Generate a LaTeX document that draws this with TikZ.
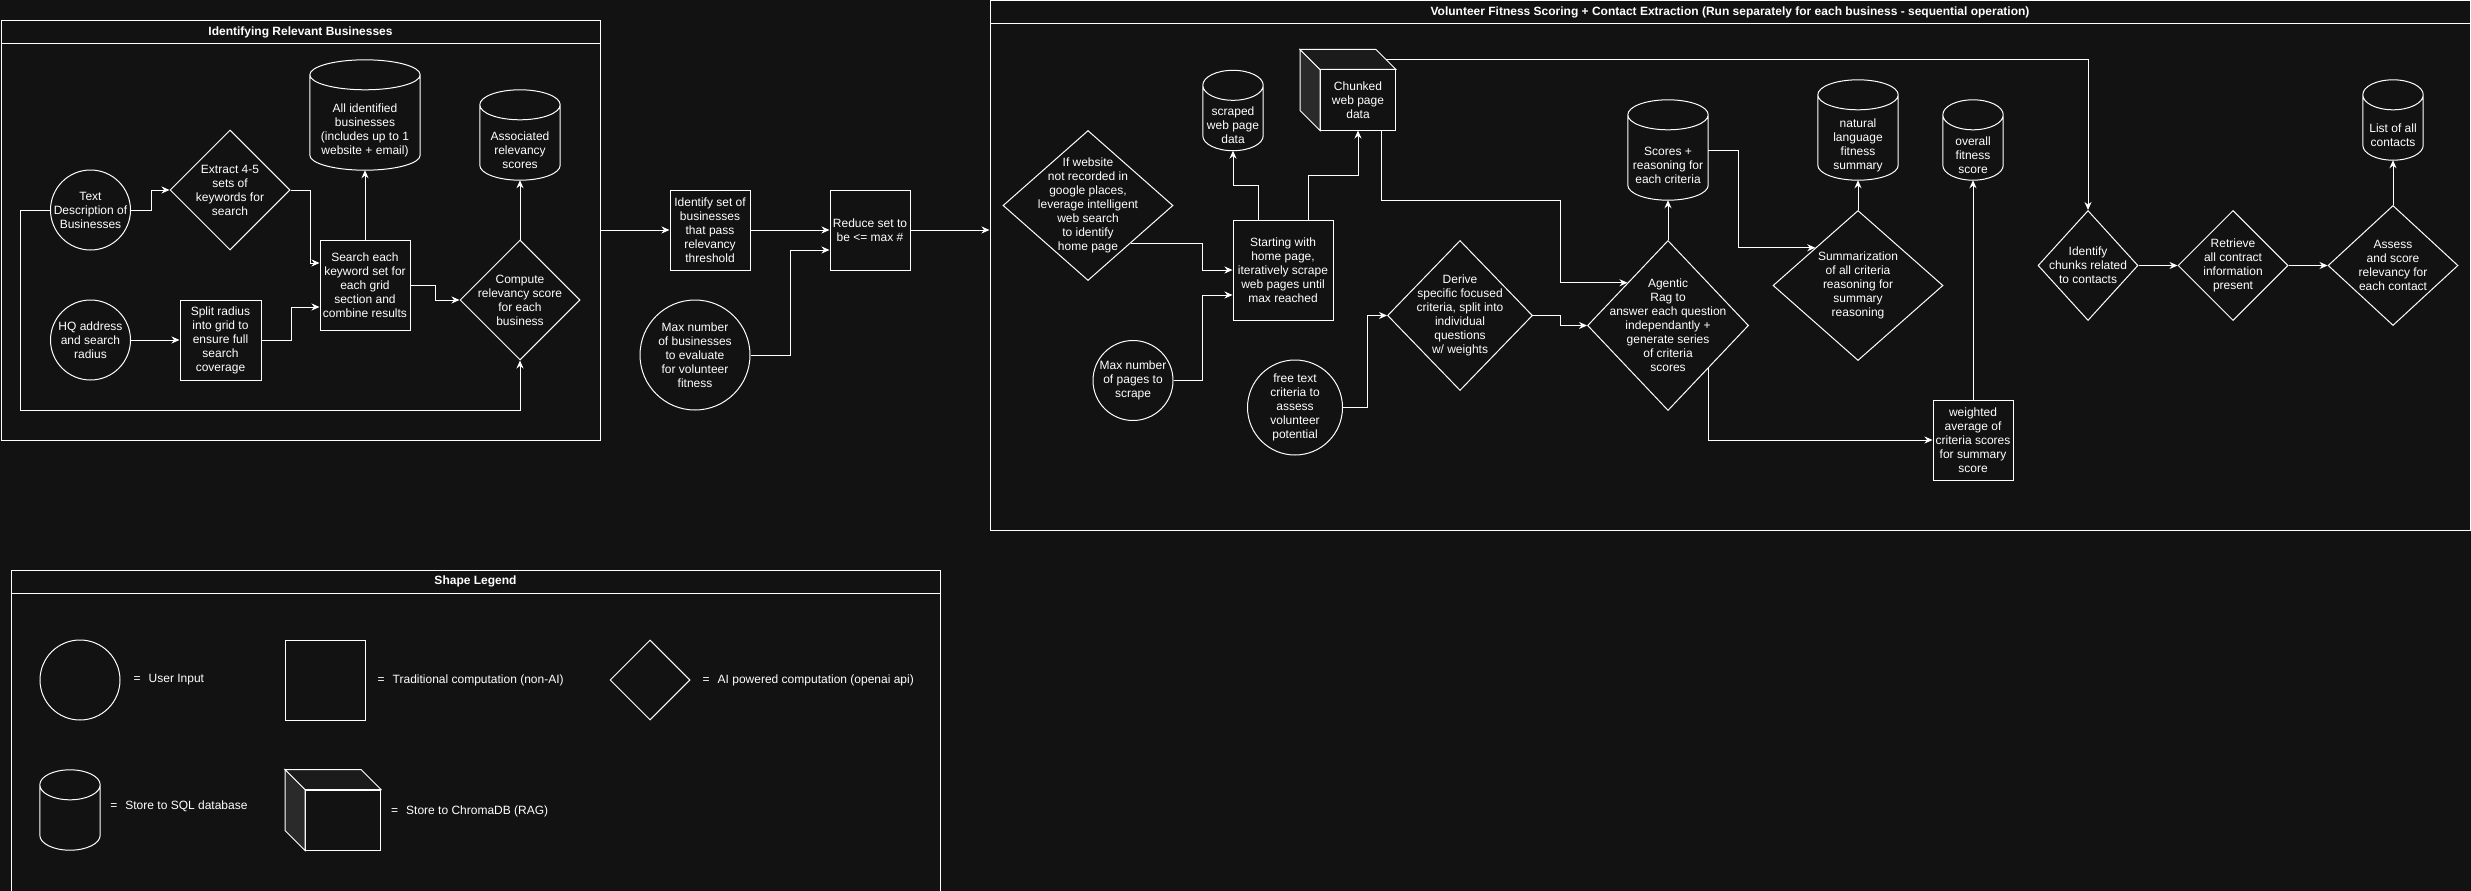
\documentclass[tikz,border=0pt]{standalone}
\usepackage{fontspec}
\setmainfont{Liberation Sans}
\usepackage{xcolor}
\definecolor{canvas}{RGB}{18,18,18}
\definecolor{cubeside}{RGB}{42,42,42}
\definecolor{cubetop}{RGB}{27,27,27}
\usepackage{tikz}
\usetikzlibrary{positioning,calc,shapes.geometric,arrows.meta}

\begin{document}
\begin{tikzpicture}[
        x=1pt, y=-1pt,
        font=\fontsize{12pt}{14pt}\selectfont,
        every label/.style={align=center, text=white, inner sep=0pt},
        user/.style={circle, draw=white, line width=1pt, minimum size=#1, inner sep=0pt},
        proc/.style 2 args={rectangle, draw=white, line width=1pt, minimum width=#1, minimum height=#2, inner sep=0pt, text=white, align=center},
        ai/.style 2 args={diamond, draw=white, line width=1pt, minimum width=#1, minimum height=#2, inner sep=0pt},
        db/.style 2 args={rectangle, minimum width=#1, minimum height=#2, inner sep=0pt, text=white, align=center},
        rag/.style={rectangle, draw=white, line width=1pt, minimum width=75pt, minimum height=60pt, inner sep=0pt, text=white, align=center},
        lane/.style 2 args={rectangle, draw=white, line width=1pt, minimum width=#1, minimum height=#2},
        lanetitle/.style={rectangle, draw=white, line width=1pt, minimum width=#1, minimum height=23pt, inner sep=0pt, text=white, font=\fontsize{12pt}{14pt}\selectfont\bfseries},
        leg/.style={text=white, inner sep=0pt, anchor=west},
        arr/.style={-{Stealth[length=8pt,width=7pt]}, draw=white, line width=1pt}
    ]
    \clip (0,0) rectangle (2471,891);
    \fill[canvas] (0,0) rectangle (2471,891);

    \node[lane={599pt}{419pt}] (lane1) at (300.5,230.5) {};
    \node[lanetitle=599pt, below=0pt of lane1.north] (lane1t) {Identifying Relevant Businesses};
    \node[lane={1480pt}{529pt}] (lane2) at (1730,265.5) {};
    \node[lanetitle=1480pt, below=0pt of lane2.north] (lane2t) {Volunteer Fitness Scoring + Contact Extraction (Run separately for each business - sequential operation)};
    \node[lane={929pt}{335pt}] (lane3) at (475.5,737.5) {};
    \node[lanetitle=929pt, below=0pt of lane3.north] (lane3t) {Shape Legend};

    \node[user=80pt, label={center:Text\\Description of\\Businesses}] (desc) at (90.5,210) {};
    \node[user=80pt, label={center:HQ address\\and search\\radius}] (hq) at (90.5,340) {};
    \node[ai={120pt}{120pt}, label={center:Extract 4-5\\sets of\\keywords for\\search}] (extract) at (230,190) {};
    \node[proc={81pt}{80pt}] (split) at (220.5,340) {Split radius\\into grid to\\ensure full\\search\\coverage};
    \node[proc={90pt}{90pt}] (search) at (365,285) {Search each\\keyword set for\\each grid\\section and\\combine results};
    \node[db={110pt}{80pt}] (allbiz) at (365,130) {All identified\\businesses\\(includes up to 1\\website + email)};
    \node[db={80pt}{60pt}] (relscores) at (520,150) {Associated\\relevancy\\scores};
    \node[ai={120pt}{120pt}, label={center:Compute\\relevancy score\\for each\\business}] (compute) at (520,300) {};

    \node[proc={80pt}{80pt}] (identify) at (710,230) {Identify set of\\businesses\\that pass\\relevancy\\threshold};
    \node[proc={80pt}{80pt}] (reduce) at (870,230) {Reduce set to\\be <= max \#};
    \node[user=110pt, label={center:Max number\\of businesses\\to evaluate\\for volunteer\\fitness}] (maxbiz) at (695,355) {};

    \node[ai={170pt}{150pt}, label={center:If website\\not recorded in\\google places,\\leverage intelligent\\web search\\to identify\\home page}] (ifweb) at (1088,205.5) {};
    \node[db={60pt}{50pt}] (scraped) at (1233,125.5) {scraped\\web page\\data};
    \node[rag] (chunked) at (1358,100) {Chunked\\web page\\data};
    \node[proc={100pt}{100pt}] (start) at (1283,270) {Starting with\\home page,\\iteratively scrape\\web pages until\\max reached};
    \node[user=80pt, label={center:Max number\\of pages to\\scrape}] (maxpages) at (1133,380.5) {};
    \node[user=95pt, label={center:free text\\criteria to\\assess\\volunteer\\potential}] (freetext) at (1295,407.5) {};
    \node[ai={145pt}{150pt}, label={center:Derive\\specific focused\\criteria, split into\\individual\\questions\\w/ weights}] (derive) at (1460,315.5) {};
    \node[ai={161pt}{170pt}, label={center:Agentic\\Rag to\\answer each question\\independantly +\\generate series\\of criteria\\scores}] (agentic) at (1668,325.5) {};
    \node[db={80pt}{70pt}] (critscores) at (1668,165) {Scores +\\reasoning for\\each criteria};
    \node[ai={170pt}{150pt}, label={center:Summarization\\of all criteria\\reasoning for\\summary\\reasoning}] (summ) at (1858,285.5) {};
    \node[db={80pt}{70pt}] (nlsummary) at (1858,145) {natural\\language\\fitness\\summary};
    \node[db={60pt}{50pt}] (fitscore) at (1973,155) {overall\\fitness\\score};
    \node[proc={80pt}{80pt}] (weighted) at (1973,440) {weighted\\average of\\criteria scores\\for summary\\score};
    \node[ai={100pt}{110pt}, label={center:Identify\\chunks related\\to contacts}] (idchunks) at (2088,265.5) {};
    \node[ai={110pt}{110pt}, label={center:Retrieve\\all contract\\information\\present}] (retrieve) at (2233,265.5) {};
    \node[ai={130pt}{120pt}, label={center:Assess\\and score\\relevancy for\\each contact}] (assess) at (2393,265.5) {};
    \node[db={60pt}{50pt}] (contacts) at (2393,135) {List of all\\contacts};

    \node[user=80pt] (legUser) at (80,680) {};
    \node[leg, right=13pt of legUser] (legUserT) {=\hspace{8pt}User Input};
    \node[proc={80pt}{80pt}] (legProc) at (325,680) {};
    \node[leg, right=12pt of legProc] (legProcT) {=\hspace{8pt}Traditional computation (non-AI)};
    \node[ai={80pt}{80pt}] (legAI) at (650,680) {};
    \node[leg, right=12pt of legAI] (legAIT) {=\hspace{8pt}AI powered computation (openai api)};
    \node[db={60pt}{50pt}] (legDB) at (70,825) {};
    \node[leg, right=10pt of legDB, yshift=19pt] (legDBT) {=\hspace{8pt}Store to SQL database};
    \node[rag] (legCube) at (343,820) {};
    \node[leg, right=10pt of legCube, yshift=9pt] (legCubeT) {=\hspace{8pt}Store to ChromaDB (RAG)};

    \foreach \c in {allbiz,relscores,scraped,critscores,nlsummary,fitscore,contacts,legDB}
        \draw[white, line width=1pt] let \p1=(\c.north west), \p2=(\c.south east), \n1={(\x2-\x1)/2} in
            (\x1,\y1+15pt) -- (\x1,\y2+15pt)
            arc[start angle=180, end angle=360, x radius=\n1*1pt, y radius=15pt]
            -- (\x2,\y1+15pt)
            arc[start angle=0, end angle=180, x radius=\n1*1pt, y radius=15pt]
            arc[start angle=180, end angle=360, x radius=\n1*1pt, y radius=15pt];
    \foreach \c in {chunked,legCube}{
        \filldraw[draw=white, line width=1pt, fill=cubeside] (\c.north west) -- ++(-20,-20) -- ($(\c.south west)+(-20,-20)$) -- (\c.south west) -- cycle;
        \filldraw[draw=white, line width=1pt, fill=cubetop] (\c.north west) -- ++(-20,-20) -- ($(\c.north east)+(-20,-20)$) -- (\c.north east) -- cycle;
    }

    \draw[arr] (desc.east) -- ++(20,0) |- (extract.west);
    \draw[arr] (desc.west) -- ++(-30,0) |- ($(compute.south)+(0,50)$) -- (compute.south);
    \draw[arr] (extract.east) -- ++(20,0) |- ($(search.west)+(0,-22)$);
    \draw[arr] (hq) -- (split);
    \draw[arr] (split.east) -- ++(30,0) |- ($(search.west)+(0,22)$);
    \draw[arr] (search.north) -- (allbiz.south);
    \draw[arr] (search.east) -- ++(25,0) |- (compute.west);
    \draw[arr] (compute.north) -- (relscores.south);
    \draw[arr] (lane1.east |- identify.west) -- (identify.west);
    \draw[arr] (identify) -- (reduce);
    \draw[arr] (maxbiz.east) -- ++(40,0) |- ($(reduce.west)+(0,20)$);
    \draw[arr] (reduce.east) -- (reduce.east -| lane2.west);
    \draw[arr] ($(ifweb.east)!0.5!(ifweb.south)$) -| ($(start.west)+(-30,0)$) -- (start.west);
    \draw[arr] (maxpages.east) -| ($(start.west)+(-30,25)$) -- ($(start.west)+(0,25)$);
    \draw[arr] ($(start.north)+(-25,0)$) |- ($(scraped.south)+(0,35)$) -- (scraped.south);
    \draw[arr] ($(start.north)+(25,0)$) |- ($(chunked.south)+(0,45)$) -- (chunked.south);
    \draw[arr] ($(chunked.south)+(23,0)$) -- ++(0,70) -| ($(agentic.west)!0.5!(agentic.north)+(-67,0)$) -- ($(agentic.west)!0.5!(agentic.north)$);
    \draw[arr] ($(chunked.north east)+(-10,-10)$) -| (idchunks.north);
    \draw[arr] (freetext.east) -- ++(24,0) |- (derive.west);
    \draw[arr] (derive.east) -- ++(27,0) |- (agentic.west);
    \draw[arr] (agentic.north) -- (critscores.south);
    \draw[arr] ($(critscores.east)+(0,-15)$) -- ++(30,0) |- ($(summ.west)!0.5!(summ.north)$);
    \draw[arr] (summ.north) -- (nlsummary.south);
    \draw[arr] ($(agentic.east)!0.5!(agentic.south)$) |- (weighted.west);
    \draw[arr] (weighted.north) -- (fitscore.south);
    \draw[arr] (idchunks) -- (retrieve);
    \draw[arr] (retrieve) -- (assess);
    \draw[arr] (assess.north) -- (contacts.south);
\end{tikzpicture}
\end{document}
